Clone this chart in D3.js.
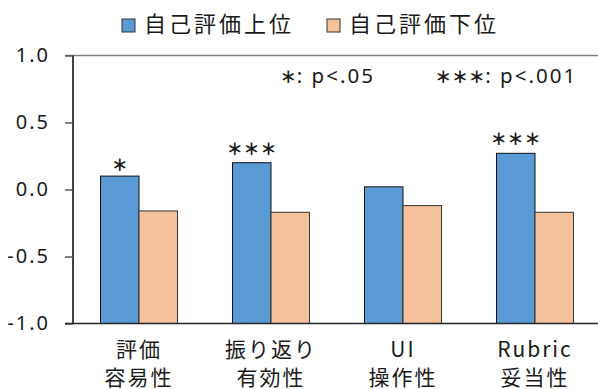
<!DOCTYPE html>
<html>
<head>
<meta charset="utf-8">
<script src="https://cdn.jsdelivr.net/npm/d3@7"></script>
<style>
  html, body { margin: 0; padding: 0; background: #fff; }
  svg { display: block; }
  text { font-family: "Noto Sans", "Noto Sans CJK JP", sans-serif; fill: #1a1a1a; }
  .jp { font-family: "Noto Sans CJK JP", "Noto Sans", sans-serif; }
  .star { font-family: "DejaVu Sans", sans-serif; }
</style>
</head>
<body>
<svg id="chart" width="598" height="389"></svg>
<script>
// Category labels (two lines each)
const categoryLine1 = ["評価", "振り返り", "UI", "Rubric"];
const categoryLine2 = ["容易性", "有効性", "操作性", "妥当性"];
const categories = categoryLine1.map((d, i) => d + categoryLine2[i]);

// Series
const seriesNames = ["自己評価上位", "自己評価下位"];
const upperValues = [0.10, 0.20, 0.02, 0.27];
const lowerValues = [-0.16, -0.17, -0.12, -0.17];
const significance = ["∗", "∗∗∗", "", "∗∗∗"];

// Axis ticks
const yTicks = [1.0, 0.5, 0.0, -0.5, -1.0];
const yDomain = [-1.0, 1.0];

const colors = ["#5B9BD5", "#F5C29D"];

const svg = d3.select("#chart");
const margin = { left: 73, right: -3, top: 55.5, bottom: 65.5 };
const W = 598, H = 389;

const x = d3.scaleBand()
  .domain(categories)
  .range([margin.left, W - margin.right])
  .paddingInner(0.417)
  .paddingOuter(0.2085);

const xs = d3.scaleBand()
  .domain(seriesNames)
  .range([0, x.bandwidth()]);

const y = d3.scaleLinear()
  .domain(yDomain)
  .range([H - margin.bottom, margin.top]);

// Top border line of plot area
svg.append("line")
  .attr("x1", 65).attr("x2", W)
  .attr("y1", y(1.0)).attr("y2", y(1.0))
  .attr("stroke", "#7f7f7f").attr("stroke-width", 1.5);

// Bars, drawn from the bottom of the value axis
const series = [upperValues, lowerValues];
series.forEach((vals, si) => {
  svg.append("g").selectAll("rect")
    .data(vals)
    .join("rect")
    .attr("x", (d, i) => x(categories[i]) + xs(seriesNames[si]))
    .attr("width", xs.bandwidth())
    .attr("y", d => y(d))
    .attr("height", d => y(yDomain[0]) - y(d))
    .attr("fill", colors[si])
    .attr("stroke", si === 0 ? "#111" : "#333")
    .attr("stroke-width", 1);
});

// Y axis
const yAxis = d3.axisLeft(y)
  .tickValues(yTicks)
  .tickSize(8)
  .tickPadding(15)
  .tickFormat(d3.format(".1f"));

const gy = svg.append("g")
  .attr("transform", `translate(${margin.left},0)`)
  .call(yAxis);
gy.select(".domain").attr("stroke", "#000").attr("stroke-width", 1.5)
  .attr("d", `M0,${y(1.0)}V${y(-1.0)}`);
gy.selectAll(".tick line").attr("stroke", "#595959").attr("stroke-width", 1.5);
gy.selectAll(".tick text")
  .style("font-size", "20px")
  .style("letter-spacing", "2px")
  .attr("fill", "#000")
  .text(d => d3.format(".1f")(d).replace("−", "-"));

// Bottom axis line
svg.append("line")
  .attr("x1", 65).attr("x2", W)
  .attr("y1", y(-1.0)).attr("y2", y(-1.0))
  .attr("stroke", "#262626").attr("stroke-width", 1.5);

// Category labels
const catG = svg.append("g");
categories.forEach((c, i) => {
  const cx = x(c) + x.bandwidth() / 2;
  catG.append("text")
    .attr("class", "jp")
    .attr("x", cx).attr("y", 357)
    .attr("text-anchor", "middle")
    .style("font-size", "21px")
    .style("letter-spacing", "2px")
    .text(categoryLine1[i]);
  catG.append("text")
    .attr("class", "jp")
    .attr("x", cx).attr("y", 385)
    .attr("text-anchor", "middle")
    .style("font-size", "21px")
    .style("letter-spacing", "2px")
    .text(categoryLine2[i]);
});

// Significance marks above the upper-group bars
upperValues.forEach((v, i) => {
  if (!significance[i]) return;
  svg.append("text")
    .attr("class", "star")
    .attr("x", x(categories[i]) + xs(seriesNames[0]) + xs.bandwidth() / 2)
    .attr("y", y(v) - (significance[i].length > 1 ? 8 : 5))
    .attr("text-anchor", "middle")
    .style("font-size", "20px")
    .attr("fill", "#000")
    .text(significance[i]);
});

// Significance legend
const note = svg.append("text").attr("y", 83).style("font-size", "20.5px").style("letter-spacing", "2px");
note.append("tspan").attr("x", 280).attr("class", "star")
  .style("font-size", "20px").style("letter-spacing", "0px").text("∗");
note.append("tspan").text(": p<.05");
const note2 = svg.append("text").attr("y", 83).style("font-size", "20.5px").style("letter-spacing", "2px");
note2.append("tspan").attr("x", 435).attr("class", "star")
  .style("font-size", "20px").style("letter-spacing", "0px").text("∗∗∗");
note2.append("tspan").text(": p<.001");

// Series legend
const legendX = [122, 327];
seriesNames.forEach((name, i) => {
  const g = svg.append("g").attr("transform", `translate(${legendX[i]},19)`);
  g.append("rect")
    .attr("width", 13).attr("height", 13)
    .attr("fill", colors[i])
    .attr("stroke", "#333").attr("stroke-width", 1);
  g.append("text")
    .attr("class", "jp")
    .attr("x", 22).attr("y", 13)
    .style("font-size", "22px")
    .style("letter-spacing", "3px")
    .attr("fill", "#333")
    .text(name);
});
</script>
</body>
</html>
